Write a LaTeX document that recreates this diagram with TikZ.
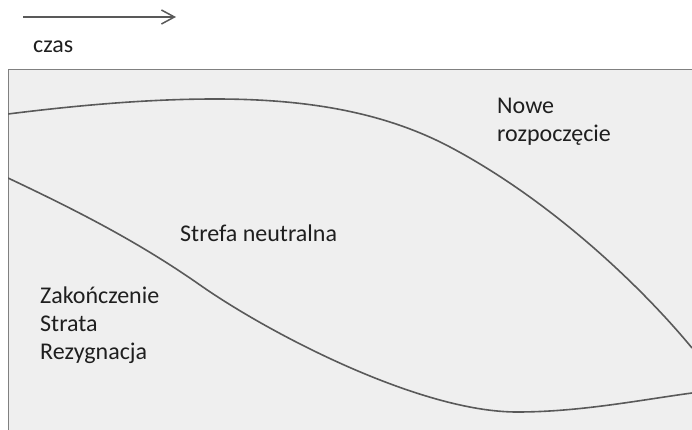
\documentclass[tikz,border=0pt]{standalone}
\usepackage{fontspec}
\setmainfont{Carlito}
\usetikzlibrary{arrows.meta}
\definecolor{pane}{HTML}{EFEFEF}
\definecolor{ink}{HTML}{1F1F1F}
\definecolor{wire}{HTML}{595959}
\tikzset{
  label/.style={text=ink, font=\fontsize{24}{28}\selectfont, align=left, inner sep=0pt, anchor=west},
  wave/.style={draw=wire, line width=1.6pt}
}
\begin{document}
\begin{tikzpicture}[x=1pt, y=-1pt]
    \useasboundingbox (0,0) rectangle (692,430);

    % Draw time arrow
    \coordinate (t0) at (23,17);
    \coordinate (t1) at (176,17);
    \draw[wire, line width=1.5pt, -{Straight Barb[length=13pt, width=14pt, line width=1.5pt]}] (t0) -- (t1);
    \node[label] (czas) at (33,47) {czas};

    % Draw background pane
    \fill[pane] (8,70) rectangle (700,440);
    \draw[gray, line width=1pt] (700,70) -- (8,70) -- (8,440);

    % Draw curves
    \begin{scope}
      \clip (8,70) rectangle (692,430);
      \draw[wave] (8,114) .. controls (80,105) and (150,99) .. (215,99)
                  .. controls (300,99) and (380,110) .. (450,147)
                  .. controls (550,200) and (640,285) .. (692,348);
      \draw[wave] (8,178) .. controls (80,212) and (140,243) .. (200,285)
                  .. controls (270,334) and (420,412) .. (517,412)
                  .. controls (580,412) and (640,400) .. (692,393);
    \end{scope}

    % Draw labels
    \node[label] (nowe) at (497,122) {Nowe\\rozpoczęcie};
    \node[label] (strefa) at (180,233) {Strefa neutralna};
    \node[label] (koniec) at (40,325) {Zakończenie\\Strata\\Rezygnacja};
\end{tikzpicture}
\end{document}
